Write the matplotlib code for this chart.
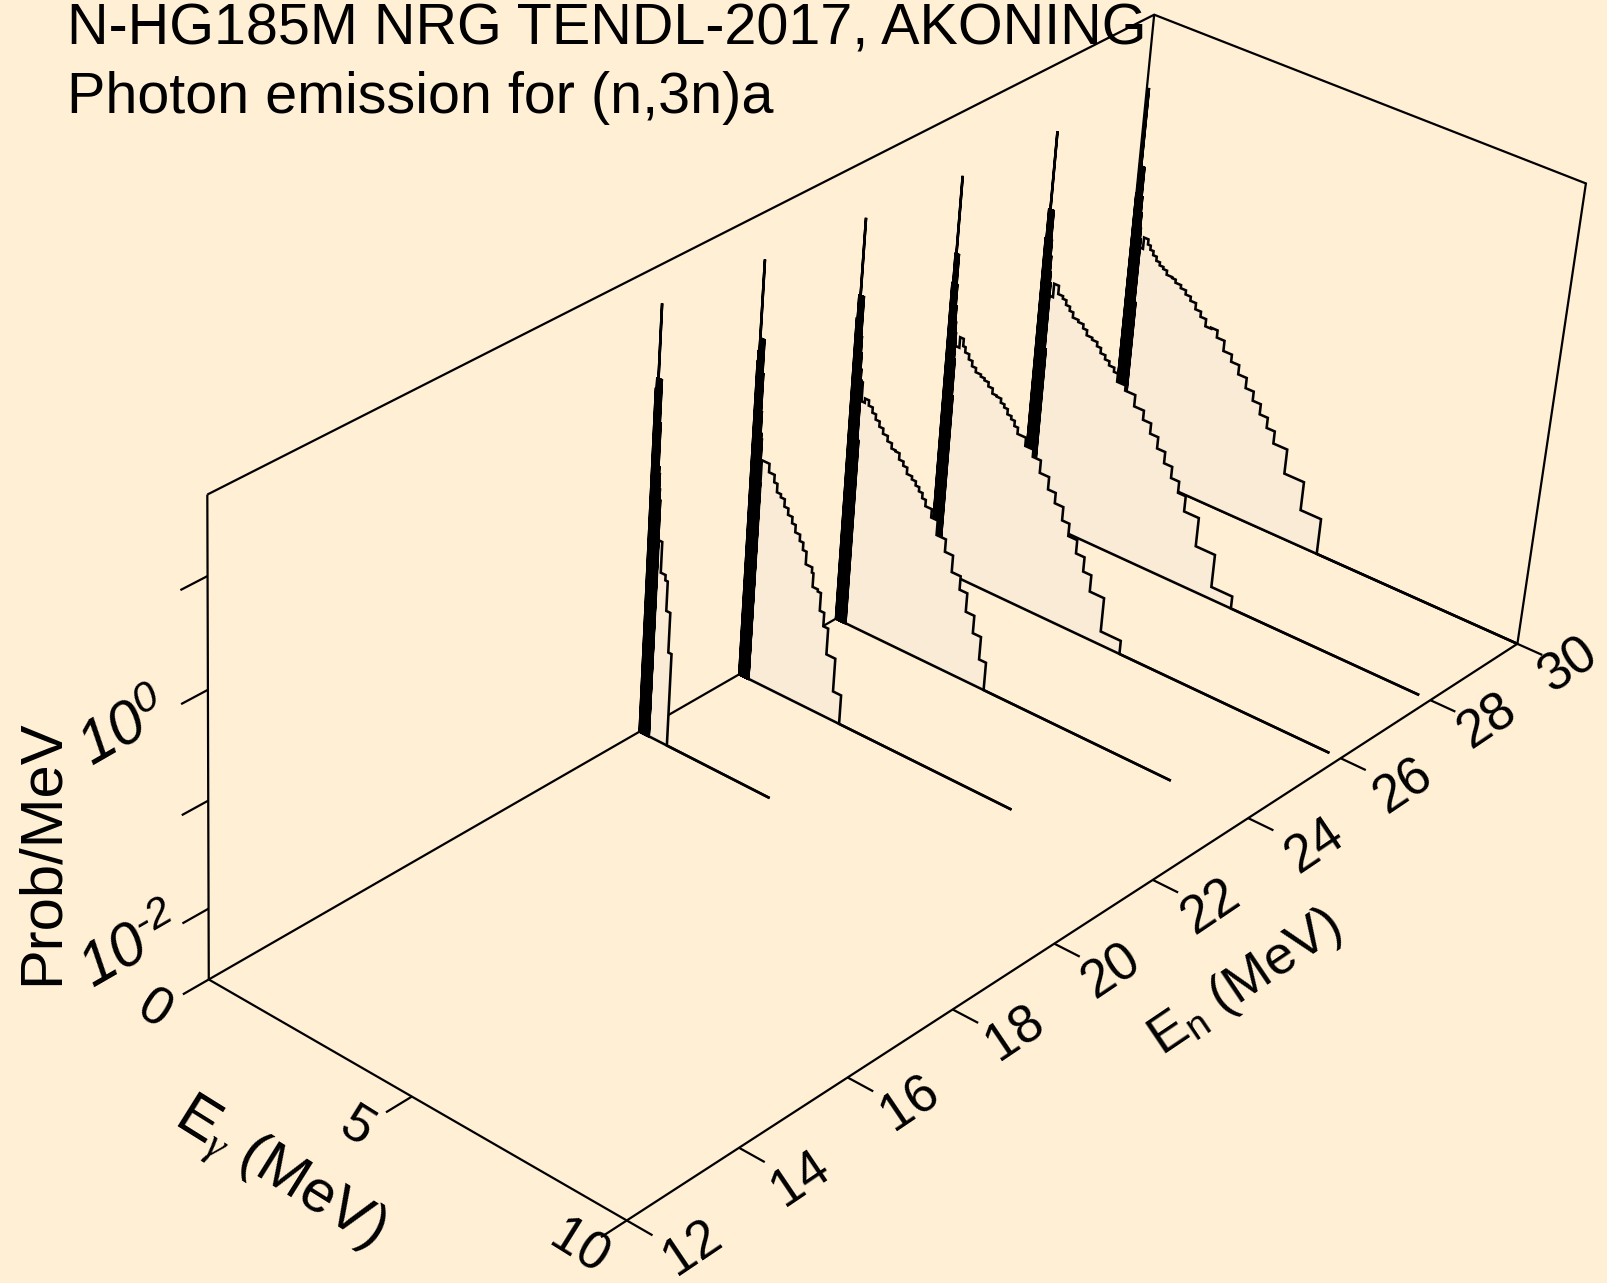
import numpy as np
import matplotlib
matplotlib.use('Agg')
import matplotlib.pyplot as plt

plt.rcParams['font.family'] = ['Liberation Sans', 'DejaVu Sans']
plt.rcParams['mathtext.fontset'] = 'custom'
plt.rcParams['mathtext.rm'] = 'Liberation Sans'
plt.rcParams['mathtext.it'] = 'Liberation Serif:italic'
plt.rcParams['mathtext.sf'] = 'Liberation Sans:italic'

BG = '#FFEFD5'
FILL = '#FAEBD7'
LW_BOX = 1.6
LW_DATA = 1.85

# box limits, lev is log10(Prob/MeV)
en_lim = [12, 30]
eg_lim = [0, 10]
lev_lim = [-2.67, 1.70]

title_lines = ['N-HG185M NRG TENDL-2017, AKONING', 'Photon emission for (n,3n)a']
en_ticks = [12, 14, 16, 18, 20, 22, 24, 26, 28, 30]
eg_ticks = [0, 5, 10]
lev_ticks = [-2, -1, 0, 1]

# En = 20
en20_spike_eg = [0.00, 0.02, 0.05, 0.07, 0.09, 0.11, 0.13, 0.15, 0.17, 0.19, 0.21, 0.23]
en20_spike_lev = [0.59, 0.69, 1.36, 0.69, 0.69, 0.69, 0.69, 0.3, -0.1, -0.16, -0.3, -0.4]
en20_edges = [0.24, 0.33, 0.45, 0.51, 0.61, 0.69]
en20_levels = [-0.78, -1.07, -1.12, -1.40, -1.78]
en20_last = 3.25

# En = 22
en22_spike_eg = [0.00, 0.01, 0.03, 0.05, 0.07, 0.09, 0.11, 0.13, 0.15, 0.17, 0.19, 0.21, 0.23]
en22_spike_lev = [0.34, 0.44, 1.27, 0.56, 0.56, 0.56, 0.56, 0.56, 0.25, -0.1, -0.3, -0.35, -0.76]
en22_edges = [0.24, 0.43, 0.57, 0.65, 0.75, 0.85, 0.95, 1.06, 1.15, 1.27, 1.36, 1.45, 1.61, 1.65,
              1.78, 1.86, 1.97, 2.09, 2.31, 2.51]
en22_levels = [-0.55, -0.63, -0.70, -0.78, -0.81, -0.88, -0.94, -1.00, -1.07, -1.13, -1.20, -1.32,
               -1.37, -1.50, -1.52, -1.69, -1.82, -2.07, -2.39]
en22_last = 6.7

# En = 24
en24_spike_eg = [0.00, 0.02, 0.05, 0.07, 0.09, 0.11, 0.13, 0.15, 0.17, 0.19, 0.21, 0.24]
en24_spike_lev = [0.25, 0.47, 1.18, 0.47, 0.47, 0.47, 0.47, 0.1, -0.05, -0.2, -0.3, -0.87]
en24_edges = [0.15, 0.25, 0.33, 0.43, 0.53, 0.62, 0.72, 0.82, 0.94, 1.05, 1.15, 1.25, 1.36, 1.46,
              1.59, 1.69, 1.78, 1.87, 1.96, 2.12, 2.28, 2.51, 2.71, 2.93, 3.12, 3.33, 3.53, 3.70]
en24_levels = [-0.32, -0.50, -0.46, -0.51, -0.56, -0.61, -0.66, -0.71, -0.76, -0.81, -0.82, -0.88,
               -0.92, -0.98, -1.01, -1.05, -1.09, -1.14, -1.20, -1.28, -1.42, -1.54, -1.70, -1.83,
               -2.01, -2.18, -2.40]
en24_last = 8.2

# En = 26
en26_spike_eg = [0.00, 0.02, 0.04, 0.06, 0.08, 0.10, 0.12, 0.14, 0.16, 0.18, 0.20, 0.22]
en26_spike_lev = [0.10, 0.38, 1.10, 0.38, 0.38, 0.38, 0.1, -0.1, -0.25, -0.35, -0.6, -0.95]
en26_edges = [0.10, 0.18, 0.29, 0.38, 0.44, 0.54, 0.63, 0.73, 0.86, 0.955, 1.06, 1.17, 1.28, 1.39,
              1.48, 1.57, 1.67, 1.76, 1.85, 2.06, 2.26, 2.46, 2.69, 2.88, 3.09, 3.27, 3.49, 3.70,
              3.90, 4.25, 4.74]
en26_levels = [-0.39, -0.48, -0.38, -0.45, -0.50, -0.55, -0.60, -0.64, -0.66, -0.68, -0.72, -0.77,
               -0.78, -0.82, -0.85, -0.90, -0.93, -0.98, -1.04, -1.12, -1.19, -1.31, -1.43, -1.53,
               -1.66, -1.78, -1.91, -2.05, -2.21, -2.54]
en26_last = 9.74

# En = 28
en28_spike_eg = [0.00, 0.02, 0.05, 0.07, 0.09, 0.11, 0.13, 0.15, 0.17, 0.19, 0.21, 0.24]
en28_spike_lev = [0.05, 0.33, 1.06, 0.33, 0.33, 0.33, 0.33, 0.05, -0.1, -0.25, -0.35, -0.99]
en28_edges = [0.10, 0.20, 0.30, 0.42, 0.54, 0.63, 0.73, 0.82, 0.96, 1.09, 1.19, 1.33, 1.46, 1.56,
              1.68, 1.79, 1.92, 2.02, 2.23, 2.48, 2.72, 2.92, 3.12, 3.32, 3.52, 3.72, 3.91, 4.27,
              4.74, 5.25]
en28_levels = [-0.38, -0.48, -0.35, -0.43, -0.455, -0.50, -0.54, -0.59, -0.61, -0.65, -0.70, -0.72,
               -0.76, -0.81, -0.85, -0.89, -0.93, -1.01, -1.06, -1.17, -1.26, -1.36, -1.47, -1.58,
               -1.69, -1.80, -1.95, -2.23, -2.55]
en28_last = 9.74

# En = 30
en30_spike_eg = [0.00, 0.02, 0.05, 0.07, 0.09, 0.11, 0.13, 0.15, 0.17, 0.19, 0.21, 0.24]
en30_spike_lev = [0.01, 0.28, 1.02, 0.28, 0.28, 0.28, 0.28, 0.0, -0.15, -0.3, -0.4, -1.02]
en30_edges = [0.06, 0.18, 0.29, 0.40, 0.47, 0.55, 0.64, 0.73, 0.825, 0.92, 1.06, 1.15, 1.29, 1.42,
              1.55, 1.69, 1.83, 1.97, 2.11, 2.27, 2.46, 2.67, 2.87, 3.08, 3.28, 3.48, 3.68, 3.88,
              4.22, 4.70, 5.20]
en30_levels = [-0.45, -0.49, -0.38, -0.43, -0.47, -0.51, -0.55, -0.58, -0.60, -0.64, -0.65, -0.68,
               -0.71, -0.75, -0.79, -0.85, -0.90, -0.97, -0.96, -1.03, -1.13, -1.20, -1.29, -1.39,
               -1.48, -1.58, -1.68, -1.80, -2.04, -2.32]
en30_last = 10.0

# camera anchors: (en, eg, lev) and where they sit in the picture, used to solve the projection
scale = 1607 / 1568
anchors = [
    (12, 0, lev_lim[0], 203, 955), (12, 0, lev_lim[1], 203, 483),
    (30, 0, lev_lim[1], 1125, 13), (30, 10, lev_lim[1], 1548, 180),
    (30, 10, lev_lim[0], 1480, 628), (12, 10, lev_lim[0], 610, 1191),
    (20, 0, lev_lim[0], 625, 714), (24, 0, lev_lim[0], 816, 605),
    (20, 10, lev_lim[0], 1030, 920), (24, 10, lev_lim[0], 1218, 798),
    (12, 5, lev_lim[0], 402, 1070),
]


def unit(en, eg, lev):
    u = (np.asarray(en, float) - en_lim[0]) / (en_lim[1] - en_lim[0])
    v = (np.asarray(eg, float) - eg_lim[0]) / (eg_lim[1] - eg_lim[0])
    w = (np.asarray(lev, float) - lev_lim[0]) / (lev_lim[1] - lev_lim[0])
    return u, v, w


rows = []
rhs = []
for a in anchors:
    u, v, w = unit(a[0], a[1], a[2])
    px, py = a[3] * scale, a[4] * scale
    rows.append([u, v, w, 1, 0, 0, 0, 0, -px * u, -px * v, -px * w])
    rhs.append(px)
    rows.append([0, 0, 0, 0, u, v, w, 1, -py * u, -py * v, -py * w])
    rhs.append(py)
cam = np.linalg.lstsq(np.array(rows), np.array(rhs), rcond=None)[0]
cam = np.append(cam, 1.0).reshape(3, 4)


def project(en, eg, lev):
    u, v, w = unit(en, eg, lev)
    d = cam[2, 0] * u + cam[2, 1] * v + cam[2, 2] * w + cam[2, 3]
    x = (cam[0, 0] * u + cam[0, 1] * v + cam[0, 2] * w + cam[0, 3]) / d
    y = (cam[1, 0] * u + cam[1, 1] * v + cam[1, 2] * w + cam[1, 3]) / d
    return x, y


fig = plt.figure(figsize=(16.07, 12.83), dpi=100, facecolor=BG)
ax = fig.add_axes([0, 0, 1, 1])
ax.set_xlim(0, 1607)
ax.set_ylim(1283, 0)
ax.axis('off')


def line3(en, eg, lev, z, lw=LW_BOX):
    x, y = project(en, eg, lev)
    ax.plot(x, y, color='k', lw=lw, solid_joinstyle='miter', solid_capstyle='butt', zorder=z)


# box
lo, hi = lev_lim
line3([12, 12], [0, 0], [lo, hi], 1)
line3([12, 30, 30, 30, 30], [0, 0, 10, 10, 0], [hi, hi, hi, lo, lo], 1)
line3([12, 12, 30], [0, 10, 10], [lo, lo, lo], 1)
line3([12, 30], [0, 0], [lo, lo], 1)
line3([30, 30], [0, 0], [lo, hi], 1)

# ticks
for t in en_ticks:
    line3([t, t], [10, 10.58], [lo, lo], 1)
for t in eg_ticks:
    line3([12, 11.55], [t, t], [lo, lo], 1)
for t in lev_ticks:
    line3([12, 11.55], [0, 0], [t, t], 1)

# spectra, back to front so the fill hides what is behind it
spectra = [
    (30, en30_spike_eg, en30_spike_lev, en30_edges, en30_levels, en30_last),
    (28, en28_spike_eg, en28_spike_lev, en28_edges, en28_levels, en28_last),
    (26, en26_spike_eg, en26_spike_lev, en26_edges, en26_levels, en26_last),
    (24, en24_spike_eg, en24_spike_lev, en24_edges, en24_levels, en24_last),
    (22, en22_spike_eg, en22_spike_lev, en22_edges, en22_levels, en22_last),
    (20, en20_spike_eg, en20_spike_lev, en20_edges, en20_levels, en20_last),
]
z = 2
for en, sp_eg, sp_lev, edges, levels, last in spectra:
    eg_all = []
    lev_all = []
    for e, l in zip(sp_eg, sp_lev):
        eg_all += [e, e, e]
        lev_all += [lo, l, lo]
    eg_step = []
    lev_step = []
    for i in range(len(levels)):
        eg_step += [edges[i], edges[i + 1]]
        lev_step += [levels[i], levels[i]]
    # fill from 0 up to the end of the stairs
    fx, fy = project(en, [0] + [edges[0]] + eg_step + [edges[-1]], [lo] + [levels[0]] + lev_step + [lo])
    ax.fill(fx, fy, color=FILL, lw=0, zorder=z)
    eg_line = eg_all + [edges[0]] + eg_step + [edges[-1], last]
    lev_line = lev_all + [levels[0]] + lev_step + [lo, lo]
    line3(np.full(len(eg_line), en), eg_line, lev_line, z + 0.5, LW_DATA)
    # floor line under the fill
    line3([en, en], [0, last], [lo, lo], z + 0.5, LW_DATA)
    z += 1

# text
ax.text(67, 45, title_lines[0], fontsize=41.4, ha='left', va='baseline', color='k')
ax.text(67, 113, title_lines[1], fontsize=41.4, ha='left', va='baseline', color='k')

ax.text(125, 730, r'$\mathsf{10}^{\mathsf{0}}$', fontsize=44, rotation=30, ha='center', va='center')
ax.text(132, 948, r'$\mathsf{10}^{\mathsf{‐2}}$', fontsize=44, rotation=30, ha='center', va='center')
ax.text(42, 852, 'Prob/MeV', fontsize=43, rotation=90, ha='center', va='center')

eg_label_px = [(154, 1010), (357, 1127), (579, 1248)]
for t, p in zip(eg_ticks, eg_label_px):
    ax.text(p[0], p[1], str(t), fontsize=38, rotation=-32, ha='center', va='center')

en_label_px = [(692, 1248), (801, 1179), (910, 1104), (1015, 1034), (1112, 972),
               (1211, 907), (1315, 846), (1404, 787), (1488, 722), (1568, 666)]
for t, p in zip(en_ticks, en_label_px):
    ax.text(p[0], p[1], str(t), fontsize=38, rotation=34, ha='center', va='center')

ax.text(1245, 983, r'$\mathrm{E}_{\mathrm{n}}$ (MeV)', fontsize=39, rotation=34, ha='center', va='center')
ax.text(279, 1174, r'$\mathrm{E}_{\gamma}$ (MeV)', fontsize=43, rotation=-32, ha='center', va='center')

fig.savefig('out.png', dpi=100, facecolor=BG)
